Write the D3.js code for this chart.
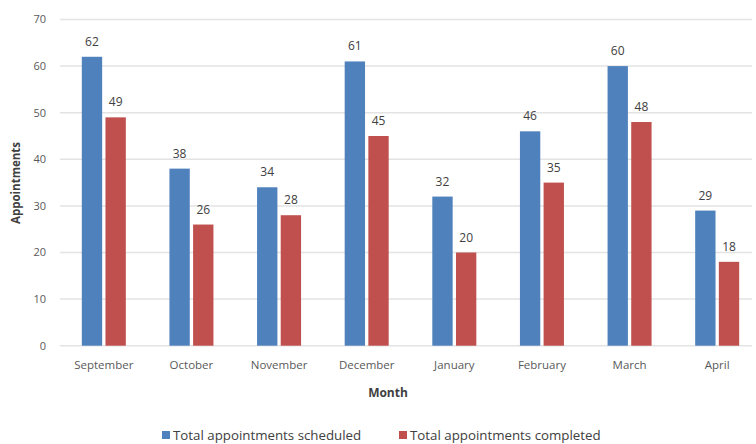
<!DOCTYPE html>
<html>
<head>
<meta charset="utf-8">
<script src="https://cdn.jsdelivr.net/npm/d3@7"></script>
<style>
  body { margin: 0; background: #fff; }
  text { font-family: "Open Sans", "Noto Sans", sans-serif; }
</style>
</head>
<body>
<script>
// datos
const months = ['September', 'October', 'November', 'December', 'January', 'February', 'March', 'April'];
const scheduled = [62, 38, 34, 61, 32, 46, 60, 29];
const completed = [49, 26, 28, 45, 20, 35, 48, 18];
const yTicks = [0, 10, 20, 30, 40, 50, 60, 70];
const seriesNames = ['Total appointments scheduled', 'Total appointments completed'];
const colors = ['#4F81BD', '#C0504D'];

const width = 756;
const height = 444;

const svg = d3.select('body')
  .append('svg')
  .attr('width', width)
  .attr('height', height);

const x = d3.scaleBand()
  .domain(months)
  .range([60, 761]);

const y = d3.scaleLinear()
  .domain([0, 70])
  .range([345.7, 19.5]);

// sub-escala para las dos barras de cada mes
const xInner = d3.scaleBand()
  .domain([0, 1])
  .range([x.bandwidth() / 2 - 22, x.bandwidth() / 2 + 22])
  .paddingInner(0.14);

// líneas de la cuadrícula
svg.append('g')
  .selectAll('line')
  .data(yTicks)
  .enter()
  .append('line')
  .attr('x1', 60)
  .attr('x2', 752)
  .attr('y1', d => y(d))
  .attr('y2', d => y(d))
  .attr('stroke', '#e3e3e3')
  .attr('stroke-width', 1.5);

// etiquetas eje Y
svg.append('g')
  .selectAll('text')
  .data(yTicks)
  .enter()
  .append('text')
  .attr('x', 46)
  .attr('y', d => y(d))
  .attr('dy', '0.35em')
  .attr('text-anchor', 'end')
  .style('font-size', '11px')
  .style('fill', '#595959')
  .text(d => d);

// barras
const series = [scheduled, completed];
series.forEach((vals, s) => {
  const g = svg.append('g');
  g.selectAll('rect')
    .data(vals)
    .enter()
    .append('rect')
    .attr('x', (d, i) => x(months[i]) + xInner(s))
    .attr('y', d => y(d))
    .attr('width', xInner.bandwidth())
    .attr('height', d => y(0) - y(d))
    .attr('fill', colors[s]);

  g.selectAll('text')
    .data(vals)
    .enter()
    .append('text')
    .attr('x', (d, i) => x(months[i]) + xInner(s) + xInner.bandwidth() / 2)
    .attr('y', d => y(d) - 11)
    .attr('text-anchor', 'middle')
    .style('font-size', '12px')
    .style('fill', '#404040')
    .text(d => d);
});

// etiquetas eje X
svg.append('g')
  .selectAll('text')
  .data(months)
  .enter()
  .append('text')
  .attr('x', d => x(d) + x.bandwidth() / 2)
  .attr('y', 369)
  .attr('text-anchor', 'middle')
  .style('font-size', '11.5px')
  .style('fill', '#595959')
  .text(d => d);

// títulos de ejes
svg.append('text')
  .attr('x', 388)
  .attr('y', 397)
  .attr('text-anchor', 'middle')
  .style('font-size', '12px')
  .style('font-weight', 'bold')
  .style('fill', '#404040')
  .text('Month');

svg.append('text')
  .attr('transform', 'translate(20,183) rotate(-90)')
  .attr('text-anchor', 'middle')
  .style('font-size', '11.5px')
  .style('font-weight', 'bold')
  .style('fill', '#404040')
  .text('Appointments');

// leyenda
const legendX = [162, 399];
seriesNames.forEach((name, s) => {
  svg.append('rect')
    .attr('x', legendX[s])
    .attr('y', 431)
    .attr('width', 8)
    .attr('height', 8)
    .attr('fill', colors[s]);
  svg.append('text')
    .attr('x', legendX[s] + 11)
    .attr('y', 440)
    .style('font-size', '13.3px')
    .style('fill', '#404040')
    .text(name);
});
</script>
</body>
</html>
